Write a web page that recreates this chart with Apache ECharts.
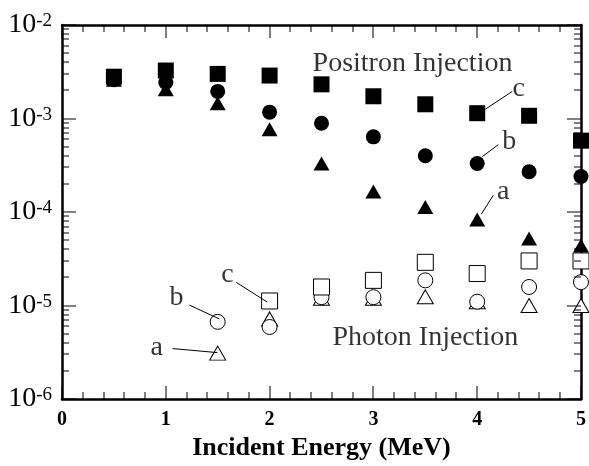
<!DOCTYPE html>
<html>
<head>
<meta charset="utf-8">
<title>Positron / Photon Injection</title>
<script src="https://cdn.jsdelivr.net/npm/echarts@6/dist/echarts.min.js"></script>
<style>
    html, body { margin: 0; padding: 0; background: #fff; }
    #chart { width: 589px; height: 466px; }
</style>
</head>
<body>
<div id="chart"></div>
<script>
// 数据 (MeV, 值)
var energy = [0.5, 1, 1.5, 2, 2.5, 3, 3.5, 4, 4.5, 5];
var positronA = [2.6e-3, 2.05e-3, 1.46e-3, 7.7e-4, 3.3e-4, 1.66e-4, 1.13e-4, 8.3e-5, 5.2e-5, 4.4e-5];
var positronB = [2.6e-3, 2.43e-3, 1.95e-3, 1.17e-3, 8.9e-4, 6.37e-4, 4.0e-4, 3.3e-4, 2.7e-4, 2.4e-4];
var positronC = [2.8e-3, 3.26e-3, 3.0e-3, 2.88e-3, 2.32e-3, 1.73e-3, 1.42e-3, 1.14e-3, 1.07e-3, 5.8e-4];

var photonEnergy = [1.5, 2, 2.5, 3, 3.5, 4, 4.5, 5];
var photonA = [3.1e-6, 7.2e-6, 1.2e-5, 1.2e-5, 1.24e-5, 1.1e-5, 1.0e-5, 1.0e-5];
var photonB = [6.7e-6, 5.9e-6, 1.23e-5, 1.23e-5, 1.86e-5, 1.1e-5, 1.58e-5, 1.78e-5];
var photonCEnergy = [2, 2.5, 3, 3.5, 4, 4.5, 5];
var photonC = [1.12e-5, 1.58e-5, 1.86e-5, 2.9e-5, 2.2e-5, 3.0e-5, 3.0e-5];

// 刻度
var xMajorTicks = [0, 1, 2, 3, 4, 5];
var xMinorTicks = [0.2, 0.4, 0.6, 0.8, 1.2, 1.4, 1.6, 1.8, 2.2, 2.4, 2.6, 2.8,
                   3.2, 3.4, 3.6, 3.8, 4.2, 4.4, 4.6, 4.8];
var yDecades = [1e-6, 1e-5, 1e-4, 1e-3, 1e-2];
var yMinorSteps = [2, 3, 4, 5, 6, 7, 8, 9];

// 标注文字
var noteText = ['Positron Injection', 'Photon Injection', 'c', 'b', 'a', 'c', 'b', 'a'];
var noteX = [2.409, 2.601, 4.40, 4.309, 4.25, 1.593, 1.104, 0.912];
var noteY = [3.86e-3, 4.53e-6, 2.10e-3, 5.64e-4, 1.67e-4, 2.15e-5, 1.23e-5, 3.55e-6];
var noteAlign = ['left', 'left', 'center', 'center', 'center', 'center', 'center', 'center'];
// 引线
var leaderFrom = [[4.338, 1.95e-3], [4.203, 5.25e-4], [4.155, 1.51e-4], [1.679, 1.77e-5], [1.228, 1.01e-5], [1.065, 3.47e-6]];
var leaderTo = [[4.079, 1.26e-3], [4.05, 3.92e-4], [4.04, 9.5e-5], [1.977, 1.09e-5], [1.516, 7.2e-6], [1.497, 3.14e-6]];

var serif = '"Liberation Serif", "Times New Roman", serif';
var xMin = 0, xMax = 5, yMin = 1e-6, yMax = 1e-2;

function pairs(xs, ys) {
    var out = [];
    for (var i = 0; i < xs.length; i++) out.push([xs[i], ys[i]]);
    return out;
}

var notes = [];
for (var i = 0; i < noteText.length; i++) {
    notes.push({
        value: [noteX[i], noteY[i]],
        label: {
            position: noteAlign[i] === 'left' ? 'right' : 'inside',
            distance: 0,
            formatter: noteText[i]
        }
    });
}
var leaders = [];
for (var i = 0; i < leaderFrom.length; i++) {
    leaders.push([{ coord: leaderFrom[i] }, { coord: leaderTo[i] }]);
}

var axisLine = { show: true, onZero: false, lineStyle: { color: '#000', width: 2.5 } };
var xBase = {
    type: 'value', min: xMin, max: xMax, interval: 1,
    axisLine: axisLine, axisTick: { show: false }, minorTick: { show: false },
    splitLine: { show: false }
};
var yBase = {
    type: 'log', logBase: 10, min: yMin, max: yMax,
    axisLine: axisLine, axisTick: { show: false }, minorTick: { show: false },
    splitLine: { show: false }
};

function filled(name, sym, size, data) {
    return {
        name: name, type: 'scatter', symbol: sym, symbolSize: size, data: data,
        itemStyle: { color: '#000', opacity: 1 }
    };
}
function open(name, sym, size, data) {
    return {
        name: name, type: 'scatter', symbol: sym, symbolSize: size, data: data,
        itemStyle: { color: '#fff', borderColor: '#000', borderWidth: 1, opacity: 1 }
    };
}

var chart = echarts.init(document.getElementById('chart'));
var option = {
    animation: false,
    grid: { left: 62, right: 6, top: 25, bottom: 63 },
    xAxis: [
        Object.assign({}, xBase, {
            position: 'bottom',
            name: 'Incident Energy (MeV)', nameLocation: 'middle', nameGap: 29,
            nameTextStyle: { fontFamily: serif, fontWeight: 'bold', fontSize: 26, color: '#000' },
            axisLabel: { margin: 11, fontFamily: serif, fontWeight: 'bold', fontSize: 20, color: '#000' }
        }),
        Object.assign({}, xBase, { position: 'top', axisLabel: { show: false } })
    ],
    yAxis: [
        Object.assign({}, yBase, {
            position: 'left',
            axisLabel: {
                margin: 10,
                formatter: function (v) {
                    var e = Math.round(Math.log(v) / Math.LN10);
                    return '{b|10}{s|' + e + '}';
                },
                rich: {
                    b: { fontFamily: serif, fontSize: 28, color: '#000' },
                    s: { fontFamily: serif, fontSize: 19, color: '#000', padding: [0, 0, 8, 0] }
                }
            }
        }),
        Object.assign({}, yBase, { position: 'right', axisLabel: { show: false } })
    ],
    series: [
        filled('positron a', 'triangle', [16, 14], pairs(energy, positronA)),
        filled('positron b', 'circle', 15, pairs(energy, positronB)),
        filled('positron c', 'rect', 16, pairs(energy, positronC)),
        open('photon a', 'triangle', [16, 14], pairs(photonEnergy, photonA)),
        open('photon b', 'circle', 15, pairs(photonEnergy, photonB)),
        open('photon c', 'rect', 16, pairs(photonCEnergy, photonC)),
        {
            name: 'notes', type: 'scatter', symbolSize: 1,
            itemStyle: { color: 'rgba(0,0,0,0)' },
            label: { show: true, fontFamily: serif, fontSize: 28, color: '#000' },
            data: notes,
            markLine: {
                silent: true, symbol: ['none', 'none'], animation: false,
                label: { show: false },
                lineStyle: { color: '#000', width: 1, type: 'solid', opacity: 1 },
                emphasis: { disabled: true },
                data: leaders
            }
        }
    ]
};
chart.setOption(option);

// 刻度线: 用坐标轴换算位置, 画成 1px 宽的矩形 (四边朝内)
var xLeft = chart.convertToPixel({ xAxisIndex: 0 }, xMin);
var xRight = chart.convertToPixel({ xAxisIndex: 0 }, xMax);
var yBottom = chart.convertToPixel({ yAxisIndex: 0 }, yMin);
var yTop = chart.convertToPixel({ yAxisIndex: 0 }, yMax);
var tickEls = [];
function tickRect(x, y, w, h) {
    tickEls.push({
        type: 'rect', silent: true, z: 100,
        shape: { x: x, y: y, width: w, height: h },
        style: { fill: '#000' }
    });
}
function xTick(v, len) {
    var px = Math.round(chart.convertToPixel({ xAxisIndex: 0 }, v)) - 0.5;
    tickRect(px, yBottom - len, 1, len);
    tickRect(px, yTop, 1, len);
}
function yTick(v, len) {
    var py = Math.round(chart.convertToPixel({ yAxisIndex: 0 }, v)) - 0.5;
    tickRect(xLeft, py, len, 1);
    tickRect(xRight - len, py, len, 1);
}
xMajorTicks.forEach(function (v) { xTick(v, 13); });
xMinorTicks.forEach(function (v) { xTick(v, 7); });
for (var d = 0; d < yDecades.length; d++) {
    yTick(yDecades[d], 14);
    if (d < yDecades.length - 1) {
        yMinorSteps.forEach(function (k) { yTick(k * yDecades[d], 7); });
    }
}
chart.setOption({ graphic: { elements: tickEls } });
</script>
</body>
</html>
